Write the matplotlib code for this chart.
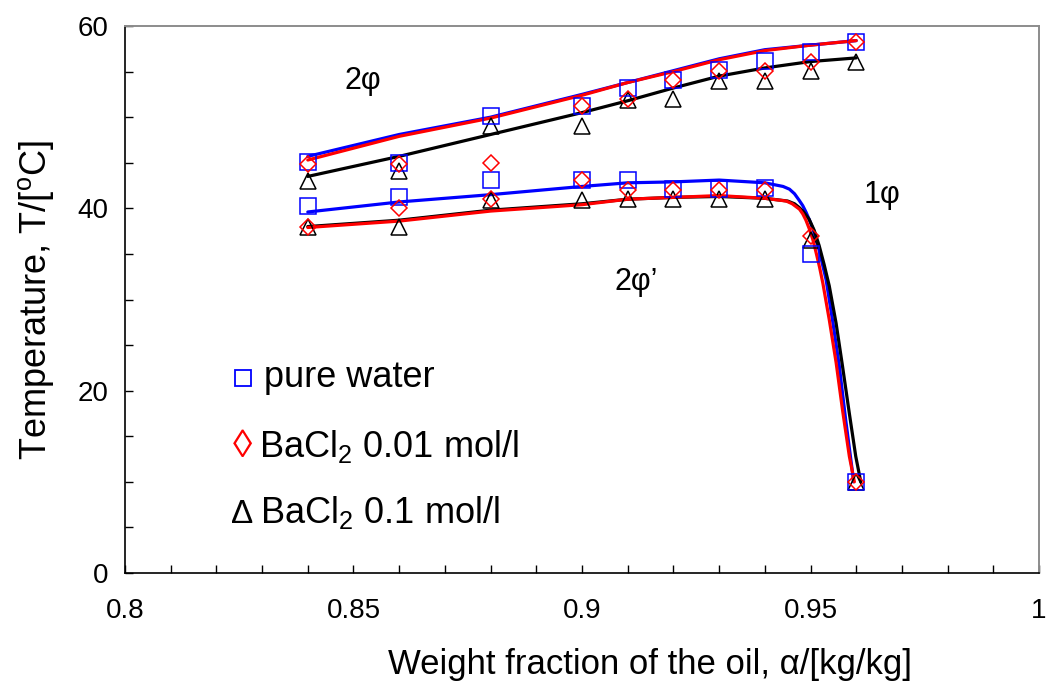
import matplotlib
matplotlib.use("Agg")
import matplotlib.pyplot as plt
from matplotlib.ticker import MultipleLocator

plt.rcParams['font.family'] = ['Liberation Sans', 'DejaVu Sans']
plt.rcParams['mathtext.fontset'] = 'custom'
plt.rcParams['mathtext.rm'] = 'Liberation Sans'
plt.rcParams['mathtext.it'] = 'Liberation Sans:italic'
plt.rcParams['mathtext.bf'] = 'Liberation Sans:bold'

# ---- measured cloud points ----
x_pts = [0.84, 0.86, 0.88, 0.90, 0.91, 0.92, 0.93, 0.94, 0.95, 0.96]

water_upper = [45.1, 45.0, 50.1, 51.2, 53.2, 54.1, 55.2, 56.2, 57.2, 58.2]
water_lower = [40.3, 41.2, 43.1, 43.1, 43.1, 42.1, 42.1, 42.2, 35.0, 10.0]

bacl_001_upper = [44.9, 44.9, 45.0, 51.2, 52.0, 54.1, 55.1, 55.1, 56.1, 58.2]
bacl_001_lower = [38.0, 40.0, 41.0, 43.1, 42.0, 42.0, 42.0, 42.0, 37.0, 10.0]

bacl_01_upper = [43.0, 44.1, 49.0, 49.0, 51.9, 52.0, 54.0, 54.0, 55.1, 56.0]
bacl_01_lower = [38.0, 38.0, 40.9, 40.9, 41.0, 41.0, 41.0, 41.0, 36.5, 10.0]

# ---- fitted boundary curves ----
fit_upper_x = [0.84, 0.86, 0.88, 0.90, 0.91, 0.92, 0.93, 0.94, 0.95, 0.96]
water_fit_upper = [45.7, 48.1, 50.0, 52.5, 53.8, 55.1, 56.4, 57.4, 57.9, 58.4]
bacl_001_fit_upper = [45.3, 47.9, 49.9, 52.4, 53.8, 55.0, 56.3, 57.3, 57.9, 58.4]
bacl_01_fit_upper = [43.5, 45.7, 48.1, 50.5, 51.8, 53.2, 54.5, 55.4, 56.1, 56.5]

water_fit_lower_x = [0.84, 0.86, 0.88, 0.90, 0.91, 0.92, 0.93, 0.94, 0.942,
                     0.944, 0.9454, 0.9465, 0.9475, 0.9483, 0.949, 0.9497,
                     0.9505, 0.9512, 0.952, 0.9534, 0.9548, 0.9563, 0.9577,
                     0.9592, 0.9594]
water_fit_lower = [39.6, 40.7, 41.5, 42.4, 42.8, 42.9, 43.1, 42.8, 42.6,
                   42.4, 42.1, 41.6, 40.9, 40.3, 39.6, 38.8,
                   37.8, 36.6, 35.2, 32.2, 27.8, 22.7, 16.8,
                   11.0, 10.0]

bacl_001_fit_lower_x = [0.84, 0.86, 0.88, 0.90, 0.91, 0.92, 0.93, 0.94, 0.9447,
                        0.946, 0.9468, 0.9476, 0.9483, 0.949, 0.9497, 0.9505,
                        0.9512, 0.952, 0.9527, 0.9541, 0.9556, 0.957, 0.9585,
                        0.9596]
bacl_001_fit_lower = [37.9, 38.6, 39.7, 40.4, 41.0, 41.2, 41.4, 41.1, 40.8,
                      40.5, 40.2, 39.9, 39.4, 38.7, 37.8, 36.6,
                      35.2, 33.5, 31.8, 27.8, 23.1, 17.9, 12.8,
                      10.0]

bacl_01_fit_lower_x = [0.84, 0.86, 0.88, 0.90, 0.91, 0.92, 0.93, 0.94, 0.945,
                       0.9465, 0.9475, 0.9485, 0.9497, 0.9508, 0.9519, 0.953,
                       0.9541, 0.9556, 0.957, 0.9585, 0.9599, 0.961]
bacl_01_fit_lower = [38.0, 38.7, 39.8, 40.5, 41.0, 41.2, 41.3, 41.1, 40.8,
                     40.5, 40.1, 39.6, 38.8, 37.6, 35.9, 33.8,
                     31.5, 27.4, 22.7, 17.5, 12.8, 10.0]

BLUE = '#0000FF'
RED = '#FF0000'
BLACK = '#000000'

fig = plt.figure(figsize=(10.47, 6.83), dpi=100)
ax = fig.add_axes([125 / 1047, 1 - 573 / 683, (1039 - 125) / 1047, (573 - 26) / 683])

lw = 2.3
line_kw = dict(lw=lw, solid_joinstyle='round', solid_capstyle='round')
# curves (drawn first so that the markers sit on top)
ax.plot(fit_upper_x, water_fit_upper, color=BLUE, zorder=2, **line_kw)
ax.plot(water_fit_lower_x, water_fit_lower, color=BLUE, zorder=2, **line_kw)
ax.plot(fit_upper_x, bacl_01_fit_upper, color=BLACK, zorder=2, **line_kw)
ax.plot(bacl_01_fit_lower_x, bacl_01_fit_lower, color=BLACK, zorder=2, **line_kw)
ax.plot(fit_upper_x, bacl_001_fit_upper, color=RED, zorder=3, **line_kw)
ax.plot(bacl_001_fit_lower_x, bacl_001_fit_lower, color=RED, zorder=3, **line_kw)

mk = dict(ls='none', mfc='none', zorder=4)
for ys in (bacl_01_upper, bacl_01_lower):
    ax.plot(x_pts, ys, marker='^', ms=12, mec=BLACK, mew=1.1, **mk)
for ys in (water_upper, water_lower):
    ax.plot(x_pts, ys, marker='s', ms=11, mec=BLUE, mew=1.1, **mk)
for ys in (bacl_001_upper, bacl_001_lower):
    ax.plot(x_pts, ys, marker='D', ms=8.5, mec=RED, mew=1.1, **mk)

ax.set_xlim(0.8, 1.0)
ax.set_ylim(0, 60)
ax.xaxis.set_major_locator(MultipleLocator(0.05))
ax.xaxis.set_minor_locator(MultipleLocator(0.01))
ax.yaxis.set_major_locator(MultipleLocator(20))
ax.yaxis.set_minor_locator(MultipleLocator(5))
ax.set_xticks([0.8, 0.85, 0.9, 0.95, 1.0])
ax.set_xticklabels(['0.8', '0.85', '0.9', '0.95', '1'])

ax.tick_params(axis='both', which='both', direction='in', width=1.0,
               top=False, right=False, labelsize=20, colors=BLACK)
ax.tick_params(axis='both', which='major', length=6)
ax.tick_params(axis='both', which='minor', length=6)
ax.tick_params(axis='x', which='major', pad=18)
ax.tick_params(axis='y', which='major', pad=12)

for side in ('left', 'bottom'):
    ax.spines[side].set_color(BLACK)
    ax.spines[side].set_linewidth(1.2)
for side in ('top', 'right'):
    ax.spines[side].set_color('#8c8c8c')
    ax.spines[side].set_linewidth(1.4)

ax.set_xlabel('Weight fraction of the oil, \u03b1/[kg/kg]', fontsize=25)
ax.xaxis.set_label_coords(0.574, -0.137)
ax.set_ylabel(r'Temperature, T/[$^{\mathrm{o}}$C]', fontsize=26)
ax.yaxis.set_label_coords(-0.075, 0.5)

# phase region labels
ax.text(0.2407, 0.8848, '2\u03c6', transform=ax.transAxes, fontsize=22,
        ha='left', va='baseline')
ax.text(0.536, 0.5174, '2\u03c6\u2019', transform=ax.transAxes, fontsize=22,
        ha='left', va='baseline')
ax.text(0.8085, 0.6764, '1\u03c6', transform=ax.transAxes, fontsize=22,
        ha='left', va='baseline')

# in-plot key
ax.plot([0.1296], [0.3556], transform=ax.transAxes, marker='s', ms=12,
        mfc='none', mec=BLUE, mew=1.3, ls='none', clip_on=False)
ax.text(0.1521, 0.3406, 'pure water', transform=ax.transAxes, fontsize=26,
        ha='left', va='baseline')
ax.text(0.1286, 0.2121, '\u25ca', transform=ax.transAxes, fontsize=28,
        ha='center', va='baseline', color=RED)
ax.text(0.1466, 0.2126, r'BaCl$_{\mathrm{2}}$ 0.01 mol/l', transform=ax.transAxes,
        fontsize=26, ha='left', va='baseline')
ax.text(0.128, 0.0914, '\u0394', transform=ax.transAxes, fontsize=24,
        ha='center', va='baseline', color=BLACK)
ax.text(0.1482, 0.0914, r'BaCl$_{\mathrm{2}}$ 0.1 mol/l', transform=ax.transAxes,
        fontsize=26, ha='left', va='baseline')

fig.savefig('out.png', dpi=100)
